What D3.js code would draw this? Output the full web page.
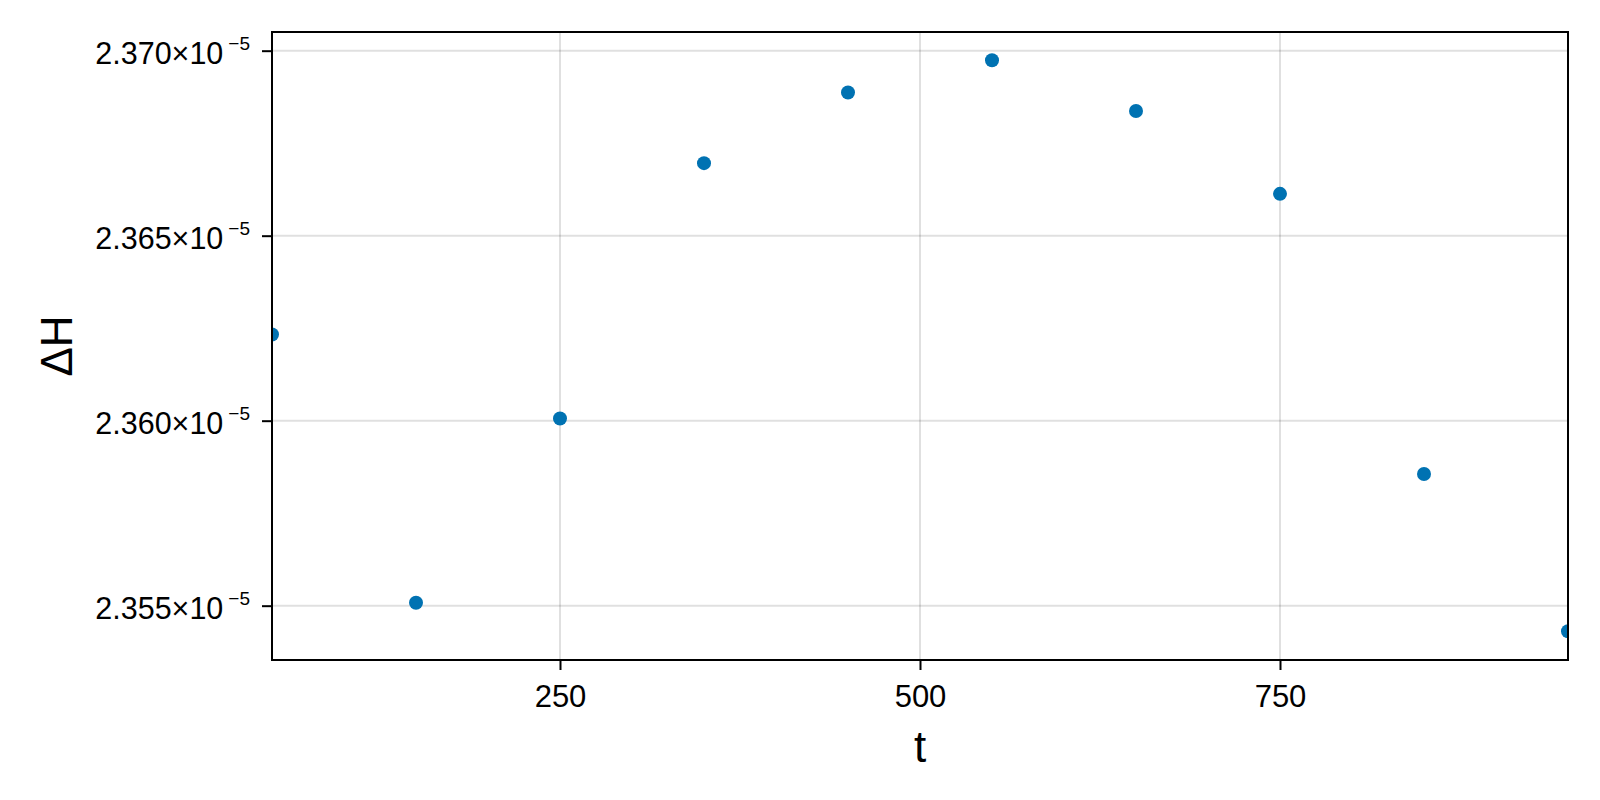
<!DOCTYPE html>
<html>
<head>
<meta charset="utf-8">
<script src="https://cdn.jsdelivr.net/npm/d3@7"></script>
<style>
  body { margin: 0; background: #fff; }
  text { font-family: "Liberation Sans", Arial, sans-serif; fill: #000; }
</style>
</head>
<body>
<div id="chart"></div>
<script>
// data (ΔH in units of 1e-5)
const tValues = [50, 150, 250, 350, 450, 550, 650, 750, 850, 950];
const dHValues = [2.36233, 2.35508, 2.36006, 2.36696, 2.36887, 2.36974, 2.36837, 2.36613, 2.35856, 2.35431];
const xTicks = [250, 500, 750];
const yTicks = [2.355, 2.360, 2.365, 2.370];
const yExponent = "−5";

const width = 1600,
  height = 800;
const margin = { top: 32, right: 32, bottom: 140, left: 272 };
const innerW = width - margin.left - margin.right,
  innerH = height - margin.top - margin.bottom;

const svg = d3.select("#chart")
  .append("svg")
  .attr("width", width)
  .attr("height", height);

const x = d3.scaleLinear()
  .domain([50, 950])
  .range([margin.left, margin.left + innerW]);

const y = d3.scaleLinear()
  .domain([2.353532, 2.370505])
  .range([margin.top + innerH, margin.top]);

svg.append("clipPath")
  .attr("id", "plot-clip")
  .append("rect")
  .attr("x", margin.left)
  .attr("y", margin.top)
  .attr("width", innerW)
  .attr("height", innerH);

// grid
const grid = svg.append("g").attr("stroke", "rgba(0,0,0,0.12)").attr("stroke-width", 2);
grid.selectAll(".vx")
  .data(xTicks)
  .join("line")
  .attr("x1", d => x(d)).attr("x2", d => x(d))
  .attr("y1", margin.top).attr("y2", margin.top + innerH);
grid.selectAll(".hy")
  .data(yTicks)
  .join("line")
  .attr("x1", margin.left).attr("x2", margin.left + innerW)
  .attr("y1", d => y(d)).attr("y2", d => y(d));

// points
svg.append("g")
  .attr("clip-path", "url(#plot-clip)")
  .selectAll("circle")
  .data(tValues)
  .join("circle")
  .attr("cx", d => x(d))
  .attr("cy", (d, i) => y(dHValues[i]))
  .attr("r", 7)
  .attr("fill", "#0072b2");

// axes
const xAxis = d3.axisBottom(x)
  .tickValues(xTicks)
  .tickSize(10)
  .tickFormat(d3.format("d"));

const gx = svg.append("g")
  .attr("transform", `translate(0,${margin.top + innerH})`)
  .call(xAxis);
gx.select(".domain").remove();
gx.selectAll(".tick line").attr("stroke", "#000").attr("stroke-width", 2);
gx.selectAll(".tick text")
  .attr("font-size", 31)
  .attr("font-family", "Liberation Sans, Arial, sans-serif")
  .attr("y", 47)
  .attr("dy", null);

const yAxis = d3.axisLeft(y)
  .tickValues(yTicks)
  .tickSize(10)
  .tickFormat(() => "");

const gy = svg.append("g")
  .attr("transform", `translate(${margin.left},0)`)
  .call(yAxis);
gy.select(".domain").remove();
gy.selectAll(".tick line").attr("stroke", "#000").attr("stroke-width", 2);

const yText = gy.selectAll(".tick text")
  .attr("font-size", 30.5)
  .attr("font-family", "Liberation Sans, Arial, sans-serif")
  .attr("dy", null)
  .attr("y", 13)
  .attr("x", -22);
yText.append("tspan").text(d => d3.format(".3f")(d) + "×10");
yText.append("tspan")
  .attr("font-size", 19)
  .attr("dx", 5)
  .attr("dy", -14)
  .text(yExponent);

// frame
svg.append("rect")
  .attr("x", margin.left)
  .attr("y", margin.top)
  .attr("width", innerW)
  .attr("height", innerH)
  .attr("fill", "none")
  .attr("stroke", "#000")
  .attr("stroke-width", 2);

// axis labels
svg.append("text")
  .attr("x", margin.left + innerW / 2)
  .attr("y", 762)
  .attr("text-anchor", "middle")
  .attr("font-size", 44)
  .text("t");

svg.append("text")
  .attr("transform", `translate(72,${margin.top + innerH / 2}) rotate(-90)`)
  .attr("text-anchor", "middle")
  .attr("font-size", 44)
  .text("ΔH");
</script>
</body>
</html>
